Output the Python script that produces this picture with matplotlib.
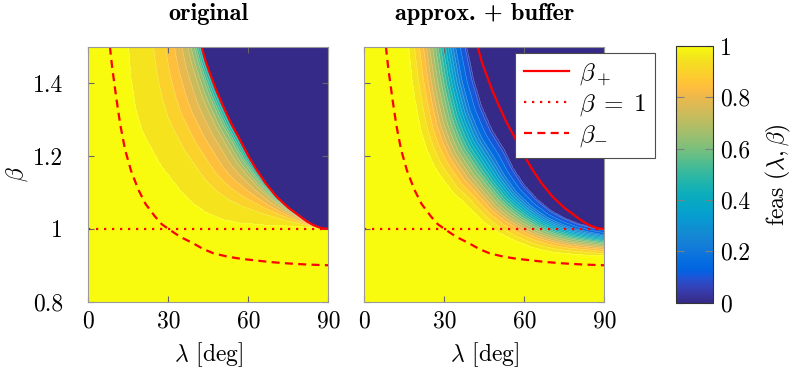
"""
Feasibility maps over (lambda, beta): original vs. approximation with buffer
"""
import numpy as np
import matplotlib
matplotlib.use('Agg')
from matplotlib import pyplot as plt
from matplotlib.colors import LinearSegmentedColormap, Normalize
from matplotlib.cm import ScalarMappable

plt.rcParams['font.family'] = 'serif'
plt.rcParams['font.serif'] = ['cmr10']
plt.rcParams['mathtext.fontset'] = 'cm'
plt.rcParams['axes.formatter.use_mathtext'] = True
plt.rcParams['axes.unicode_minus'] = False

# bounds beta_+ and beta_- (lambda in deg)
lam_plus = [42.5, 44.0, 45.6, 48.0, 50.6, 53.5, 56.9, 60.0, 63.1, 66.5, 70.6,
            75.0, 79.4, 82.0, 84.4, 86.5, 88.1, 90.0]
beta_plus = [1.5, 1.46, 1.427, 1.38, 1.336, 1.29, 1.244, 1.2, 1.162, 1.125, 1.088,
             1.058, 1.034, 1.02, 1.010, 1.004, 1.001, 1.0]
lam_minus = [8.1, 9.0, 10.6, 12.0, 13.8, 16.0, 18.8, 21.5, 25.0, 27.5, 30.6, 34.5,
             39.4, 43.0, 46.9, 52.0, 57.0, 61.9, 68.0, 75.0, 82.0, 90.0]
beta_minus = [1.5, 1.44, 1.354, 1.285, 1.217, 1.16, 1.107, 1.068, 1.034, 1.013, 0.997,
              0.978, 0.960, 0.945, 0.933, 0.924, 0.918, 0.914, 0.909, 0.905, 0.902, 0.9]
lam_one = [0.0, 90.0]
beta_one = [1.0, 1.0]

# original: edge of the fully feasible region, zero edge is beta_+
lam_on1 = [15.0, 16.0, 17.5, 20.0, 23.8, 27.5, 31.3, 35.0, 39.0, 44.0, 50.6, 56.0,
           63.0, 75.6, 90.0]
beta_on1 = [1.5, 1.41, 1.336, 1.27, 1.217, 1.17, 1.134, 1.1, 1.07, 1.045, 1.024, 1.016,
            1.011, 1.006, 1.0]
s_knots1 = [0.0, 0.347, 0.51, 0.633, 0.735, 0.816, 0.9, 0.95, 1.0]
feas_knots1 = [0.95, 0.9, 0.85, 0.8, 0.75, 0.7, 0.6, 0.5, 0.4]

# approx. + buffer: fully feasible edge and zero edge
lam_on2 = [16.5, 17.8, 19.5, 21.3, 23.4, 26.3, 29.5, 33.0, 36.9, 44.4, 50.0, 56.9,
           63.0, 69.4, 75.0, 81.9, 90.0]
beta_on2 = [1.5, 1.41, 1.33, 1.265, 1.217, 1.17, 1.135, 1.1, 1.075, 1.02, 0.99, 0.965,
            0.948, 0.937, 0.931, 0.928, 0.924]
lam_zero2 = [38.4, 41.0, 44.0, 48.0, 52.5, 56.0, 60.0, 65.0, 70.0, 75.0, 80.0, 85.0, 90.0]
beta_zero2 = [1.5, 1.41, 1.336, 1.27, 1.217, 1.165, 1.12, 1.08, 1.05, 1.03, 1.015, 1.005,
              0.998]
s_knots2 = [0.0, 0.107, 0.24, 0.47, 0.64, 0.81, 1.0]
feas_knots2 = [0.95, 0.9, 0.82, 0.6, 0.4, 0.2, 0.08]

parula_rows = [
    [0.2081, 0.1663, 0.5292], [0.2116, 0.1898, 0.5777], [0.2123, 0.2138, 0.6270],
    [0.2081, 0.2386, 0.6771], [0.1959, 0.2645, 0.7279], [0.1707, 0.2919, 0.7792],
    [0.1253, 0.3242, 0.8303], [0.0591, 0.3598, 0.8683], [0.0117, 0.3875, 0.8820],
    [0.0060, 0.4086, 0.8828], [0.0165, 0.4266, 0.8786], [0.0329, 0.4430, 0.8720],
    [0.0498, 0.4586, 0.8641], [0.0629, 0.4737, 0.8554], [0.0723, 0.4887, 0.8467],
    [0.0779, 0.5040, 0.8384], [0.0793, 0.5200, 0.8312], [0.0749, 0.5375, 0.8263],
    [0.0641, 0.5570, 0.8240], [0.0488, 0.5772, 0.8228], [0.0343, 0.5966, 0.8199],
    [0.0265, 0.6137, 0.8135], [0.0239, 0.6287, 0.8038], [0.0231, 0.6418, 0.7913],
    [0.0228, 0.6535, 0.7768], [0.0267, 0.6642, 0.7607], [0.0384, 0.6743, 0.7436],
    [0.0590, 0.6838, 0.7254], [0.0843, 0.6928, 0.7062], [0.1133, 0.7015, 0.6859],
    [0.1453, 0.7098, 0.6646], [0.1801, 0.7177, 0.6424], [0.2178, 0.7250, 0.6193],
    [0.2586, 0.7317, 0.5954], [0.3022, 0.7376, 0.5712], [0.3482, 0.7424, 0.5473],
    [0.3953, 0.7459, 0.5244], [0.4420, 0.7481, 0.5033], [0.4871, 0.7491, 0.4840],
    [0.5300, 0.7491, 0.4661], [0.5709, 0.7485, 0.4494], [0.6099, 0.7473, 0.4337],
    [0.6473, 0.7456, 0.4188], [0.6834, 0.7435, 0.4044], [0.7184, 0.7411, 0.3905],
    [0.7525, 0.7384, 0.3768], [0.7858, 0.7356, 0.3633], [0.8185, 0.7327, 0.3498],
    [0.8507, 0.7299, 0.3360], [0.8824, 0.7274, 0.3217], [0.9139, 0.7258, 0.3063],
    [0.9450, 0.7261, 0.2886], [0.9739, 0.7314, 0.2666], [0.9938, 0.7455, 0.2403],
    [0.9990, 0.7653, 0.2164], [0.9955, 0.7861, 0.1967], [0.9880, 0.8066, 0.1794],
    [0.9789, 0.8271, 0.1633], [0.9697, 0.8481, 0.1475], [0.9626, 0.8705, 0.1309],
    [0.9589, 0.8949, 0.1132], [0.9598, 0.9218, 0.0948], [0.9661, 0.9514, 0.0755],
    [0.9763, 0.9831, 0.0538],
]
parula = LinearSegmentedColormap.from_list('parula', parula_rows, N=256)

lam_grid = np.linspace(0, 90, 451)
beta_grid = np.linspace(0.8, 1.5, 351)
L, B = np.meshgrid(lam_grid, beta_grid)
KX, KY = 240 / 90, 364.0  # deg and beta to roughly equal screen units


def curve_dist(lam, beta):
    """distance from every grid point to the polyline (lam, beta)"""
    px, py = L * KX, B * KY
    xs, ys = np.asarray(lam) * KX, np.asarray(beta) * KY
    d = np.full(L.shape, np.inf)
    for x0, y0, x1, y1 in zip(xs[:-1], ys[:-1], xs[1:], ys[1:]):
        dx, dy = x1 - x0, y1 - y0
        t = np.clip(((px - x0) * dx + (py - y0) * dy) / (dx * dx + dy * dy), 0, 1)
        d = np.minimum(d, np.hypot(px - x0 - t * dx, py - y0 - t * dy))
    return d


def feas_map(lam_on, beta_on, lam_zero, beta_zero, s_knots, feas_knots):
    before = B <= np.interp(L, lam_on, beta_on)
    after = B > np.interp(L, lam_zero, beta_zero)
    d_on = curve_dist(lam_on, beta_on)
    d_zero = curve_dist(lam_zero, beta_zero)
    s = d_on / (d_on + d_zero + 1e-9)
    F = np.interp(s, s_knots, feas_knots)
    F[before] = 1.0
    F[after] = 0.0
    return F


F1 = feas_map(lam_on1, beta_on1, lam_plus, beta_plus, s_knots1, feas_knots1)
F2 = feas_map(lam_on2, beta_on2, lam_zero2, beta_zero2, s_knots2, feas_knots2)

levels = np.linspace(0, 1, 21)
band_colors = parula(np.linspace(0, 1, len(levels) - 1))

W, H = 803, 376
fig = plt.figure(figsize=(W / 100, H / 100), dpi=100)
ax1 = fig.add_axes([88.3 / W, 1 - 301.7 / H, 240 / W, 255 / H])
ax2 = fig.add_axes([364.3 / W, 1 - 301.7 / H, 240 / W, 255 / H])
cax = fig.add_axes([676 / W, 1 - 302.7 / H, 36.7 / W, 256.7 / H])

fs = 17
red = (1, 0, 0)
for ax, F, title in [(ax1, F1, 'original'), (ax2, F2, 'approx. + buffer')]:
    ax.contourf(L, B, F, levels=levels, colors=band_colors)
    ax.contour(L, B, F, levels=levels[1:-1], colors='white', linewidths=0.35, alpha=0.35)
    ax.plot(lam_plus, beta_plus, color=red, lw=1.6, label=r'$\beta_+$')
    ax.plot(lam_one, beta_one, color=red, lw=1.6, linestyle=(0, (1.0, 2.6)),
            label=r'$\beta \;=\; 1$')
    ax.plot(lam_minus, beta_minus, color=red, lw=1.6, linestyle=(0, (3.6, 2.4)),
            label=r'$\beta_{\mathrm{-}}$')
    ax.set_xlim(0, 90)
    ax.set_ylim(0.8, 1.5)
    ax.set_xticks([0, 30, 60, 90])
    ax.set_xticklabels(['0', '30', '60', '90'])
    ax.set_yticks([0.8, 1.0, 1.2, 1.4])
    ax.tick_params(direction='in', length=4, color='0.4', labelsize=fs, pad=6,
                   top=True, right=True)
    ax.tick_params(axis='y', pad=18)
    for sp in ax.spines.values():
        sp.set_color('0.6')
        sp.set_linewidth(0.8)
    ax.set_xlabel(r'$\lambda$ [deg]', fontsize=fs, labelpad=6)
    ax.set_title(title, fontsize=17.5, fontfamily='cmb10', pad=19)

ax1.set_yticklabels(['0.8', '1', '1.2', '1.4'])
ax1.set_ylabel(r'$\beta$', fontsize=fs)
ax1.yaxis.set_label_coords(-0.243, 0.5)
ax2.set_yticklabels([])

leg = ax2.legend(loc='upper right', bbox_to_anchor=(655 / W, 1 - 52.7 / H),
                 bbox_transform=fig.transFigure, borderaxespad=0, fontsize=18,
                 handlelength=1.8, labelspacing=0.2, fancybox=False,
                 framealpha=1, edgecolor='0.3', borderpad=0.35, handletextpad=0.4)
leg.get_frame().set_linewidth(0.8)
leg.set_zorder(10)

sm = ScalarMappable(norm=Normalize(0, 1), cmap=parula)
cb = fig.colorbar(sm, cax=cax)
cb.set_ticks([0, 0.2, 0.4, 0.6, 0.8, 1])
cb.set_ticklabels(['0', '0.2', '0.4', '0.6', '0.8', '1'])
cax.tick_params(direction='in', length=6, color='0.5', labelsize=fs, left=True,
                right=True, pad=5)
cb.outline.set_edgecolor('0.2')
cb.outline.set_linewidth(0.8)
cb.set_label(r'feas $(\lambda, \beta)$', fontsize=fs, labelpad=10)

fig.savefig('out.png', dpi=100)
